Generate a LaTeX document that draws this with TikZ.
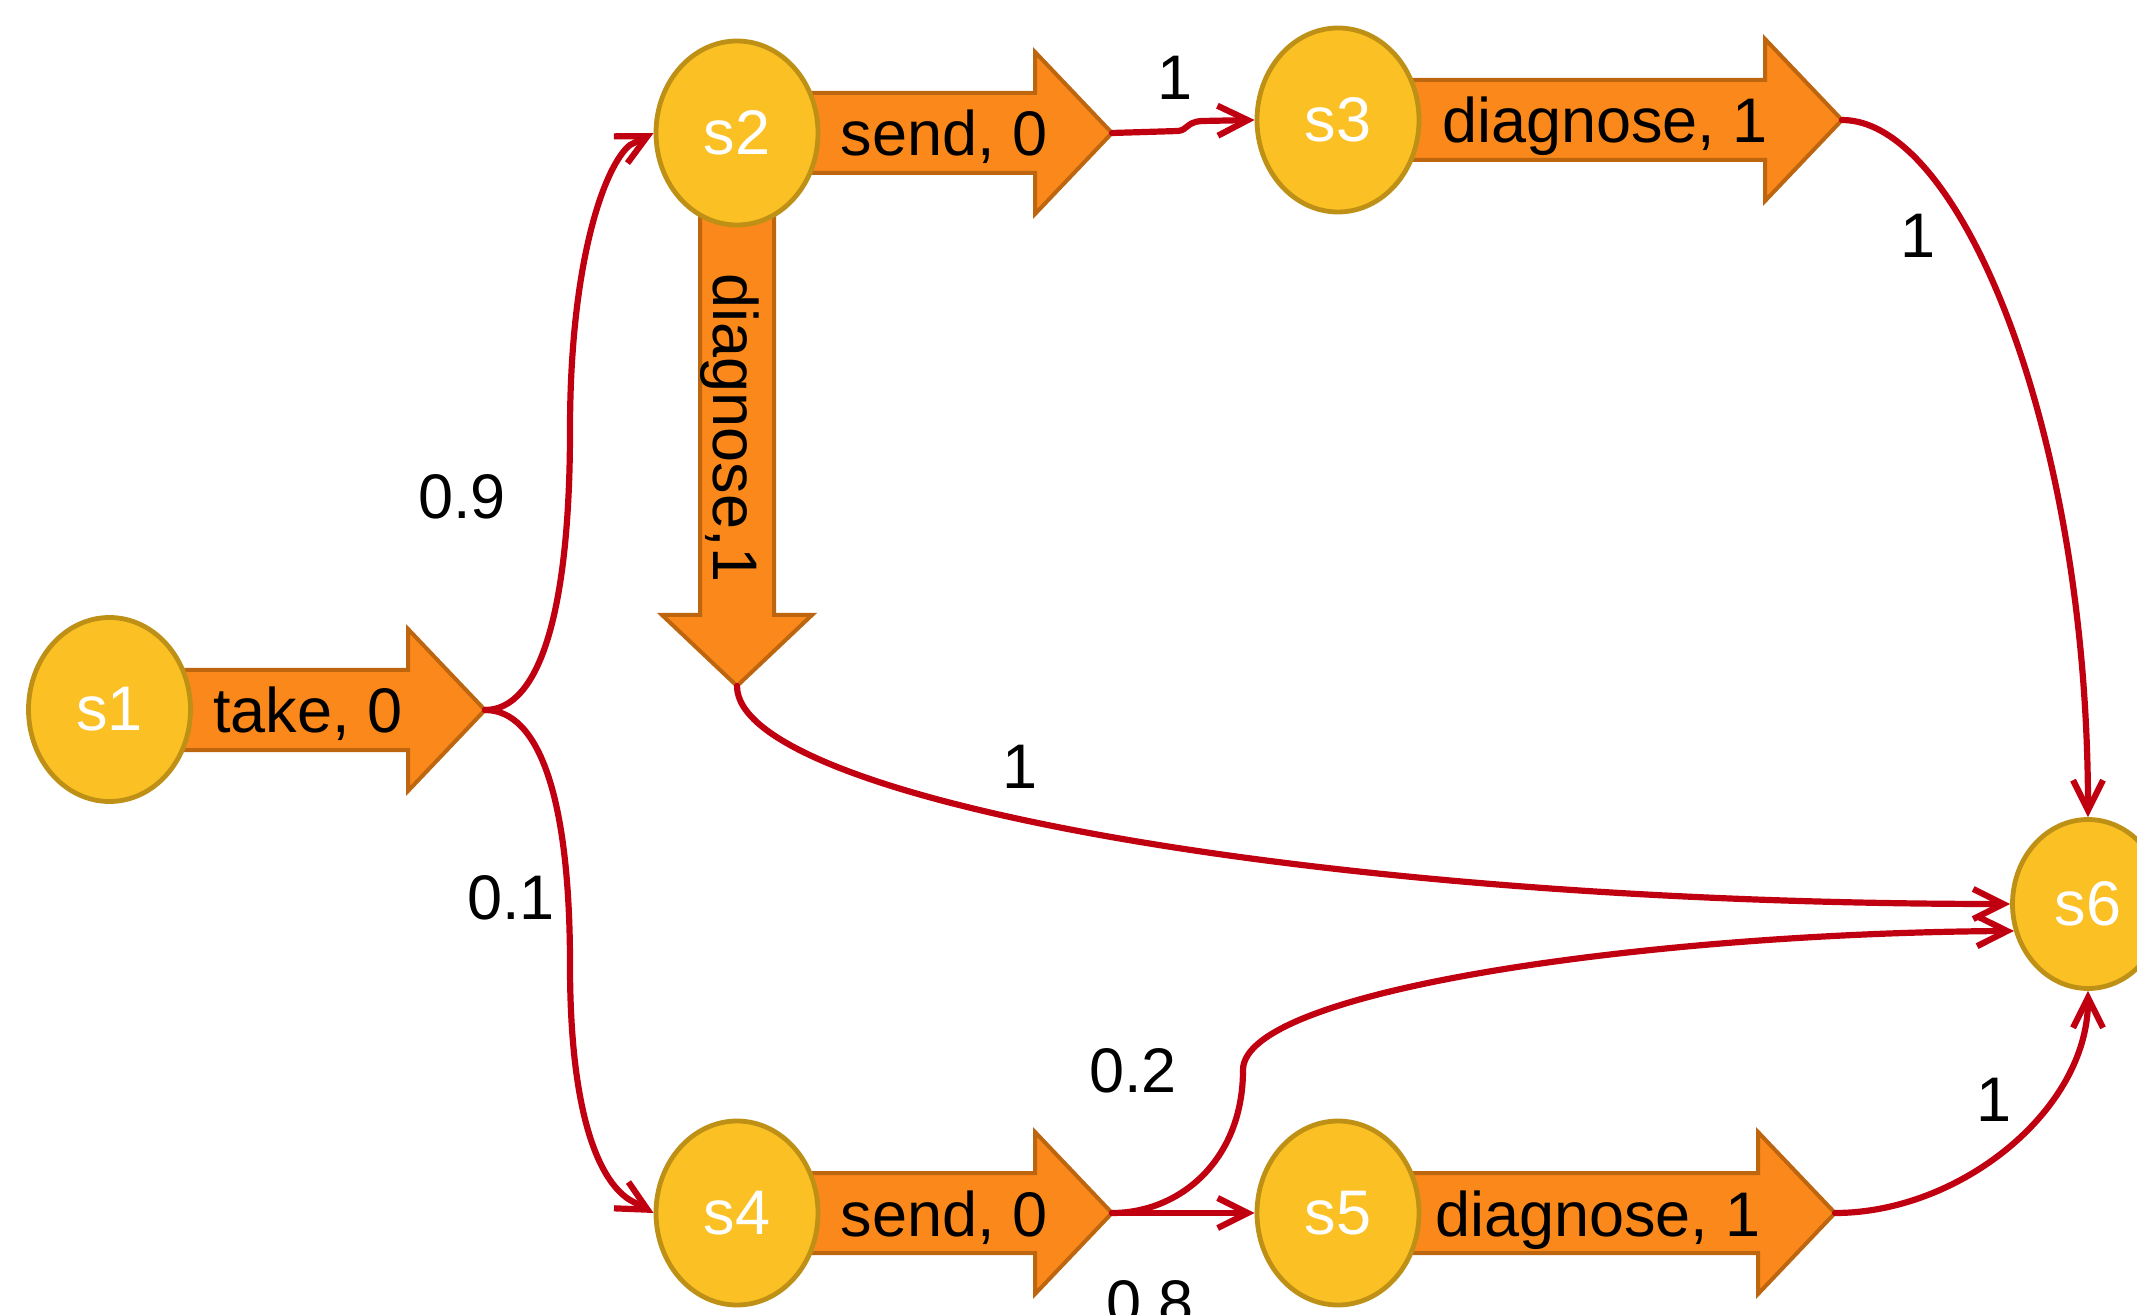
\documentclass[tikz,border=0pt]{standalone}
\usepackage{fontspec}
\setmainfont{Liberation Sans}
\usetikzlibrary{arrows.meta,shapes.geometric}
\definecolor{stfill}{RGB}{251,192,36}
\definecolor{stdraw}{RGB}{190,145,22}
\definecolor{actfill}{RGB}{250,136,26}
\definecolor{actdraw}{RGB}{190,102,15}
\definecolor{edgered}{RGB}{192,0,16}
% right-pointing action arrow: start x, head base x, tip x, centre y, tip name
\newcommand\actR[5]{%
  \path[act] (#1,#4-40) -- (#2,#4-40) -- (#2,#4-81) -- (#3,#4) -- (#2,#4+81) -- (#2,#4+40) -- (#1,#4+40) -- cycle;
  \coordinate (#5) at (#3,#4);}
\begin{document}
\begin{tikzpicture}[x=0.5pt,y=-0.5pt,
  state/.style={ellipse, draw=stdraw, fill=stfill, line width=2.4pt,
    minimum width=81pt, minimum height=92pt, inner sep=0pt, text=white,
    font=\fontsize{31.5pt}{36pt}\selectfont},
  act/.style={draw=actdraw, fill=actfill, line width=2pt, line join=miter},
  lbl/.style={font=\fontsize{31.5pt}{36pt}\selectfont, inner sep=0pt},
  tr/.style={draw=edgered, line width=3.1pt, line cap=round,
    -{Straight Barb[length=15pt,width=15pt]}}]
\useasboundingbox (0,0) rectangle (2137,1315);
\clip (0,0) rectangle (2137,1315);

% action arrows
\actR{150}{408}{485}{710}{ttake}
\actR{780}{1035}{1112}{133}{tsendA}
\actR{1380}{1765}{1842}{120}{tdiagA}
\actR{780}{1035}{1112}{1213}{tsendB}
\actR{1380}{1758}{1835}{1213}{tdiagB}
\path[act] (700,150) -- (700,615) -- (662,615) -- (737,686) -- (812,615) -- (774,615) -- (774,150) -- cycle;
\coordinate (tdiagC) at (737,686);

% action labels
\node[lbl, anchor=base] (ltake) at (308,733) {take, 0};
\node[lbl, anchor=base] (lsendA) at (944,156) {send, 0};
\node[lbl, anchor=base] (ldiagA) at (1605,143) {diagnose, 1};
\node[lbl, anchor=base] (lsendB) at (944,1236) {send, 0};
\node[lbl, anchor=base] (ldiagB) at (1598,1236) {diagnose, 1};
\node[lbl, anchor=base, rotate=-90] (ldiagC) at (713,428) {diagnose,1};

% states
\node[state] (s1) at (109.5,709.5) {s1};
\node[state] (s2) at (737,133) {s2};
\node[state] (s3) at (1338,120) {s3};
\node[state] (s4) at (737,1213) {s4};
\node[state] (s5) at (1338,1213) {s5};
\node[state, minimum width=75.5pt, minimum height=84.5pt] (s6) at (2088,904) {s6};

% transitions
\draw[tr] (ttake) .. controls (540,710) and (570,610) .. (570,430)
  .. controls (570,260) and (605,165) .. (630,145) -- (s2.west);
\draw[tr] (ttake) .. controls (540,710) and (570,800) .. (570,965)
  .. controls (570,1130) and (605,1185) .. (630,1200) -- (s4.west);
\draw[tr] (tsendA) -- (1178,131) .. controls (1188,130) and (1186,122) .. (1202,121) -- (s3.west);
\draw[tr] (tdiagA) .. controls (1960,120) and (2088,430) .. (s6.north);
\draw[tr] (tdiagC) .. controls (737,797) and (1308,904) .. (s6.west);
\draw[tr] (tsendB) .. controls (1180,1213) and (1243,1160) .. (1243,1070)
  .. controls (1243,990) and (1650,933) .. (s6.200);
\draw[tr] (tsendB) -- (s5.west);
\draw[tr] (tdiagB) .. controls (1960,1213) and (2088,1110) .. (s6.south);

% probabilities
\node[lbl] (p09) at (462,497) {0.9};
\node[lbl] (p01) at (511,898) {0.1};
\node[lbl] (p1a) at (1175,78) {1};
\node[lbl] (p1b) at (1918,236) {1};
\node[lbl] (p1c) at (1020,767) {1};
\node[lbl] (p02) at (1133,1071) {0.2};
\node[lbl] (p08) at (1150,1303) {0.8};
\node[lbl] (p1d) at (1994,1100) {1};
\end{tikzpicture}
\end{document}
